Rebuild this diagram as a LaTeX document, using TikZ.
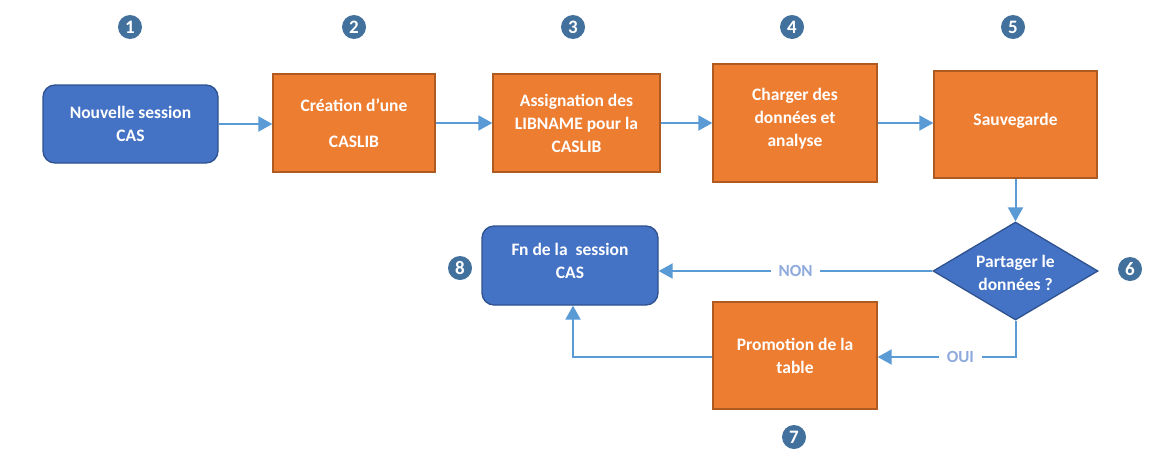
\documentclass[tikz,border=0pt]{standalone}
\usepackage{fontspec}
\setmainfont{Carlito}
\usetikzlibrary{shapes.geometric,arrows.meta}
\definecolor{bfill}{HTML}{4472C4}
\definecolor{bdraw}{HTML}{2F528F}
\definecolor{ofill}{HTML}{ED7D31}
\definecolor{odraw}{HTML}{AE5A21}
\definecolor{conn}{HTML}{5B9BD5}
\definecolor{lbl}{HTML}{8FAADC}
\definecolor{numc}{HTML}{41719C}
\tikzset{
  txt/.style={text=white, font=\fontsize{17.5}{23}\selectfont\bfseries, align=center},
  bluebox/.style={txt, draw=bdraw, fill=bfill, line width=1.3pt, rounded corners=12pt, inner sep=0pt},
  orangebox/.style={txt, draw=odraw, fill=ofill, line width=1.3pt, inner sep=0pt},
  numdot/.style={circle, fill=numc, text=white, inner sep=0pt, minimum size=24pt, font=\fontsize{19}{19}\selectfont\bfseries},
  link/.style={draw=conn, line width=2pt, -{Triangle[length=14pt,width=15pt]}},
  lab/.style={fill=white, text=lbl, font=\fontsize{17}{17}\selectfont\bfseries, inner xsep=8pt}
}
\begin{document}
\begin{tikzpicture}[x=1pt,y=-1pt]
\useasboundingbox[fill=white] (0,0) rectangle (1166,469);

\node[bluebox, minimum width=175pt, minimum height=78pt] (n1) at (130.5,124) {Nouvelle session\\CAS};
\node[orangebox, minimum width=162pt, minimum height=98pt] (n2) at (354,123) {Création d’une\\[13pt]CASLIB};
\node[orangebox, minimum width=167pt, minimum height=98pt] (n3) at (576.5,123) {Assignation des\\LIBNAME pour la\\CASLIB};
\node[orangebox, minimum width=164pt, minimum height=118pt] (n4) at (795,123) {};
\node[txt] (t4) at ([yshift=4pt]n4.center) {Charger des\\données et\\analyse};
\node[orangebox, minimum width=163pt, minimum height=107pt] (n5) at (1015.5,124.5) {};
\node[txt] (t5) at ([yshift=3.5pt]n5.center) {Sauvegarde};
\node[diamond, draw=bdraw, fill=bfill, line width=1.3pt, inner sep=0pt, minimum width=165pt, minimum height=98pt] (q) at (1015.5,271) {};
\node[txt] (qt) at ([yshift=-2pt]q.center) {Partager le\\données ?};
\node[bluebox, minimum width=176pt, minimum height=79pt] (n8) at (570,265.5) {};
\node[txt] (t8) at ([yshift=4.5pt]n8.center) {Fn de la~ session\\CAS};
\node[orangebox, minimum width=164pt, minimum height=107pt] (n7) at (795,355.5) {Promotion de la\\table};

\node[numdot] (c1) at (130,27) {1};
\node[numdot] (c2) at (354,27) {2};
\node[numdot] (c3) at (573,27) {3};
\node[numdot] (c4) at (792,27) {4};
\node[numdot] (c5) at (1013,27) {5};
\node[numdot] (c6) at (1130,269) {6};
\node[numdot] (c7) at (794,437) {7};
\node[numdot] (c8) at (460,268) {8};

\draw[link] (n1.east) -- (n1.east -| n2.west);
\draw[link] (n2.east) -- (n2.east -| n3.west);
\draw[link] (n3.east) -- (n3.east -| n4.west);
\draw[link] (n4.east) -- (n4.east -| n5.west);
\draw[link] (n5.south) -- (q.north);
\draw[link] (q.west) -- node[lab] {NON} (q.west -| n8.east);
\draw[link] (q.south) |- node[lab, pos=0.7] {OUI} ([yshift=-1.5pt]n7.east);
\draw[link] ([yshift=-1.5pt]n7.west) -| ([xshift=3pt]n8.south);
\end{tikzpicture}
\end{document}
